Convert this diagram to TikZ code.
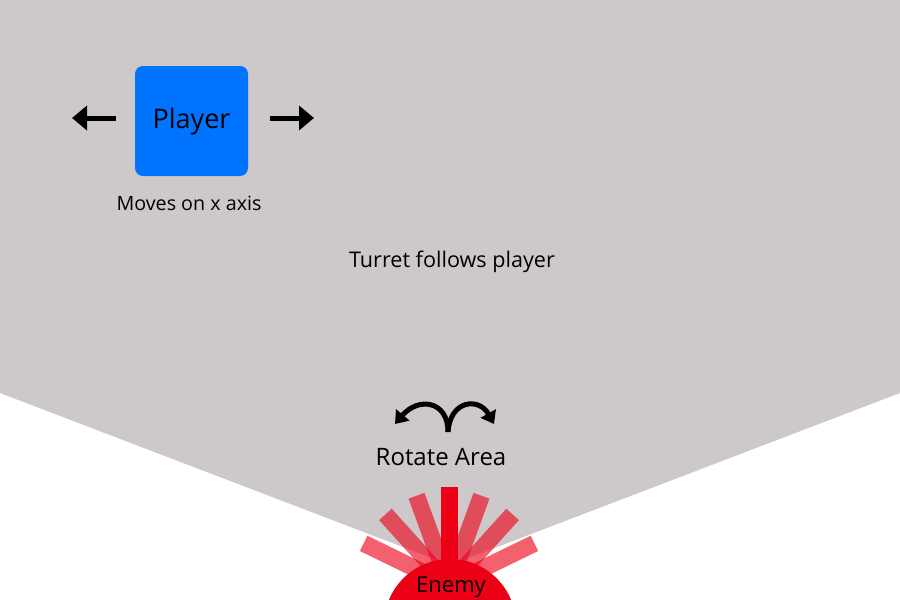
\documentclass[tikz,border=0pt]{standalone}
\usepackage{fontspec}
\setmainfont{Open Sans}
\usetikzlibrary{arrows.meta}
\definecolor{bggray}{RGB}{205,201,202}
\definecolor{pblue}{RGB}{0,115,255}
\definecolor{ered}{RGB}{236,0,22}
\tikzset{
  lbl/.style={inner sep=0pt, text=black},
  barrel/.style={fill=ered, fill opacity=0.62, draw=none},
  movearrow/.style={line width=5pt, -{Triangle[length=15pt,width=24pt]}},
  rotarrow/.style={line width=5pt, -{Triangle[length=12pt,width=17pt]}},
}
\begin{document}
\begin{tikzpicture}[x=1pt,y=-1pt]
\useasboundingbox (0,0) rectangle (900,600);
\fill[white] (0,0) rectangle (900,600);
% gray viewing area
\fill[bggray] (0,0) -- (900,0) -- (900,393) -- (450,565) -- (0,393) -- cycle;
% player
\node[fill=pblue, rounded corners=8pt, minimum width=113pt, minimum height=110pt, inner sep=0pt, font=\fontsize{27}{30}\selectfont] (player) at (191.5,121) {Player};
\coordinate (la1) at (116,118);
\coordinate (la2) at (72,118);
\coordinate (ra1) at (270,118);
\coordinate (ra2) at (314,118);
\draw[movearrow] (la1) -- (la2);
\draw[movearrow] (ra1) -- (ra2);
\node[lbl, font=\fontsize{19.7}{22}\selectfont] (moves) at (189,203) {Moves on x axis};
\node[lbl, font=\fontsize{21.6}{24}\selectfont] (turret) at (452,262) {Turret follows player};
% rotate arrows
\coordinate (rc) at (448,432);
\coordinate (rl) at (395,424);
\coordinate (rr) at (494,424);
\draw[rotarrow] (rc) .. controls (448,400) and (418,397) .. (rl);
\draw[rotarrow] (rc) .. controls (450,400) and (479,397) .. (rr);
\node[lbl, font=\fontsize{24}{26}\selectfont] (rotate) at (441,457) {Rotate Area};
% barrels
\coordinate (pivot) at (449,585);
\foreach \a in {-64,-42,-20,20,42,64}{
  \fill[barrel, rotate around={\a:(pivot)}] (440.5,490) rectangle (457.5,585);
}
\fill[ered] (440.5,487) rectangle (458,585);
% enemy dome
\fill[ered] (450,625) circle[radius=66];
\node[lbl, font=\fontsize{22}{24}\selectfont] (enemy) at (451,587) {Enemy};
\end{tikzpicture}
\end{document}
